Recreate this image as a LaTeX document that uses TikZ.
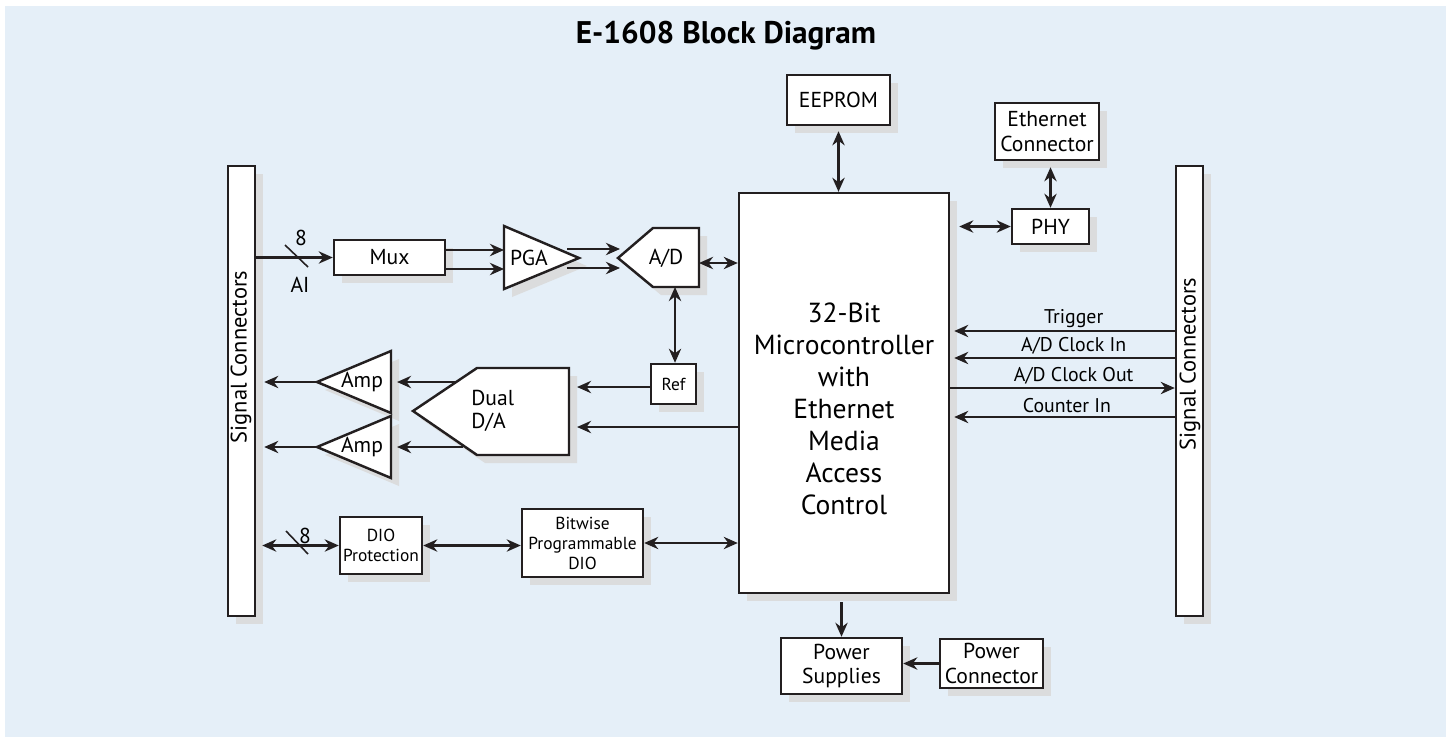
\documentclass[tikz,border=0pt]{standalone}
\usepackage{fontspec}
\setmainfont{PT Sans}
\usetikzlibrary{positioning, arrows.meta, shadows}
\definecolor{panelblue}{RGB}{229,239,248}
\definecolor{shadowgray}{RGB}{219,220,221}
\definecolor{inkblack}{RGB}{35,31,32}

\begin{document}
\begin{tikzpicture}[x=0.02cm, y=-0.02cm,
    boxshadow/.style={drop shadow={shadow xshift=0.16cm, shadow yshift=-0.16cm,
                      fill=shadowgray, opacity=1}},
    blk/.style={draw=inkblack, line width=1.4pt, fill=white, inner sep=1pt,
                align=center, boxshadow, font=\fontsize{12.3}{14}\selectfont},
    shp/.style={draw=inkblack, line width=1.4pt, fill=white, boxshadow},
    txt/.style={inner sep=0pt, align=center, font=\fontsize{12.3}{13.5}\selectfont},
    small/.style={font=\fontsize{9.9}{11.4}\selectfont},
    lbl/.style={above, inner sep=1.5pt, font=\fontsize{11.3}{12}\selectfont},
    sig/.style={draw=inkblack, line width=1.3pt, -{Stealth[length=8pt,width=7pt]}},
    bi/.style={draw=inkblack, line width=1.3pt,
               {Stealth[length=8pt,width=7pt]}-{Stealth[length=8pt,width=7pt]}}
  ]

  % panel
  \useasboundingbox (0,0) rectangle (1449,738);
  \fill[panelblue] (5,6) rectangle (1446,737);
  \node[font=\bfseries\fontsize{17.8}{21}\selectfont] (title) at (726,36) {E-1608 Block Diagram};

  % signal connectors
  \node[blk, minimum width=0.54cm, minimum height=9cm] (lsig) at (241.5,391) {};
  \node[rotate=90, font=\fontsize{12.8}{14}\selectfont] (lsigtxt) at (241,357) {Signal Connectors};
  \node[blk, minimum width=0.54cm, minimum height=9cm] (rsig) at (1189.5,391) {};
  \node[rotate=90, font=\fontsize{12.8}{14}\selectfont] (rsigtxt) at (1190,364) {Signal Connectors};

  % analog input chain
  \node[blk, minimum width=2.22cm, minimum height=0.7cm] (mux) at (389.5,257.5) {Mux};
  \draw[shp] (504,226) -- (579,258) -- (504,289) -- cycle;
  \node[txt] (pga) at (529,258) {PGA};
  \draw[shp] (618,258) -- (653,228) -- (699,228) -- (699,287) -- (653,287) -- cycle;
  \node[txt] (adc) at (666,258) {A/D};
  \coordinate (pga w) at (504,258);
  \coordinate (pga o1) at (567,249);
  \coordinate (pga o2) at (567,268);
  \coordinate (adc w) at (620,258);
  \coordinate (adc e) at (699,263);
  \coordinate (adc s) at (675,287);

  % analog output chain
  \node[blk, small, minimum width=0.9cm, minimum height=0.8cm] (ref) at (673.5,384) {Ref};
  \draw[shp] (569,368) -- (477,368) -- (413,411) -- (477,455) -- (569,455) -- cycle;
  \node[txt, align=left, anchor=west, font=\fontsize{12.3}{13.2}\selectfont] (dac) at (471,411) {Dual\\D/A};
  \draw[shp] (391,351) -- (391,413) -- (317,382) -- cycle;
  \node[txt] (amp1) at (362,382) {Amp};
  \draw[shp] (391,416) -- (391,478) -- (317,447) -- cycle;
  \node[txt] (amp2) at (362,447) {Amp};
  \coordinate (dac e) at (577,387);
  \coordinate (dac in) at (577,427);
  \coordinate (dac o1) at (456,382);
  \coordinate (dac o2) at (463,447);
  \coordinate (amp1 e) at (397,382);
  \coordinate (amp2 e) at (397,447);
  \coordinate (amp1 w) at (317,382);
  \coordinate (amp2 w) at (317,447);

  % digital I/O
  \node[blk, small, minimum width=1.64cm, minimum height=1.14cm] (dioprot) at (381,545.5) {DIO\\Protection};
  \node[blk, small, minimum width=2.42cm, minimum height=1.36cm] (bitwise) at (582.5,543) {Bitwise\\Programmable\\DIO};

  % controller and periphery
  \node[blk, minimum width=4.2cm, minimum height=8cm] (mcu) at (844,393) {};
  \node[txt, font=\fontsize{15.7}{18.2}\selectfont] (mcutxt) at (844,409)
    {32-Bit\\Microcontroller\\with\\Ethernet\\Media\\Access\\Control};
  \node[blk, minimum width=2.06cm, minimum height=1.0cm] (eeprom) at (838.5,100) {EEPROM};
  \node[blk, minimum width=2.08cm, minimum height=1.14cm] (ethc) at (1047,131.5) {Ethernet\\Connector};
  \node[blk, minimum width=1.54cm, minimum height=0.7cm] (phy) at (1050.5,226.5) {PHY};
  \node[blk, minimum width=2.42cm, minimum height=1.12cm] (psup) at (841.5,666) {Power\\Supplies};
  \node[blk, minimum width=2.06cm, minimum height=0.98cm] (pconn) at (991.5,663.5) {Power\\Connector};

  % connectors, left side
  \draw[sig] (lsig.east |- mux.west) -- (mux.west);
  \draw[line width=0.9pt, draw=inkblack] (285,245) -- (308,267);
  \node[txt] (ainum) at (301,238) {8};
  \node[txt] (ailbl) at (300,285) {AI};
  \draw[sig] ([yshift=0.15cm]mux.east) -- ([yshift=0.15cm]mux.east -| pga w);
  \draw[sig] ([yshift=-0.23cm]mux.east) -- ([yshift=-0.23cm]mux.east -| pga w);
  \draw[sig] (pga o1) -- (pga o1 -| adc w);
  \draw[sig] (pga o2) -- (pga o2 -| adc w);
  \draw[bi] (adc e) -- (adc e -| mcu.west);
  \draw[bi] (adc s) -- (adc s |- ref.north);
  \draw[sig] (ref.west |- dac e) -- (dac e);
  \draw[sig] (mcu.west |- dac in) -- (dac in);
  \draw[sig] (dac o1) -- (amp1 e);
  \draw[sig] (dac o2) -- (amp2 e);
  \draw[sig, shorten >=0.16cm] (amp1 w) -- (lsig.east |- amp1 w);
  \draw[sig, shorten >=0.16cm] (amp2 w) -- (lsig.east |- amp2 w);
  \draw[bi, shorten <=0.12cm] (lsig.east |- dioprot.west) -- (dioprot.west);
  \draw[line width=0.9pt, draw=inkblack] (286,531) -- (308,554);
  \node[txt] (dionum) at (305,536) {8};
  \draw[bi] (dioprot.east) -- (dioprot.east -| bitwise.west);
  \draw[bi] (bitwise.east) -- (bitwise.east -| mcu.west);

  % connectors, top and bottom
  \draw[bi, shorten <=0.1cm] (eeprom.south) -- (eeprom.south |- mcu.north);
  \draw[bi, shorten <=0.12cm] (ethc.south -| phy.north) -- (phy.north);
  \draw[bi, shorten <=0.18cm] (mcu.east |- phy.west) -- (phy.west);
  \draw[sig, shorten <=0.16cm] (psup.north |- mcu.south) -- (psup.north);
  \draw[sig] (pconn.west) -- (pconn.west -| psup.east);

  % connectors, right side
  \draw[sig, shorten >=0.08cm] ([yshift=1.2cm]rsig.west) -- ([yshift=1.2cm]rsig.west -| mcu.east)
    node[lbl, pos=0.45] {Trigger};
  \draw[sig, shorten >=0.08cm] ([yshift=0.66cm]rsig.west) -- ([yshift=0.66cm]rsig.west -| mcu.east)
    node[lbl, pos=0.45] {A/D Clock In};
  \draw[sig] ([yshift=0.06cm]rsig.west -| mcu.east) -- ([yshift=0.06cm]rsig.west)
    node[lbl, pos=0.55] {A/D Clock Out};
  \draw[sig, shorten >=0.08cm] ([yshift=-0.52cm]rsig.west) -- ([yshift=-0.52cm]rsig.west -| mcu.east)
    node[lbl, pos=0.48] {Counter In};

\end{tikzpicture}
\end{document}
